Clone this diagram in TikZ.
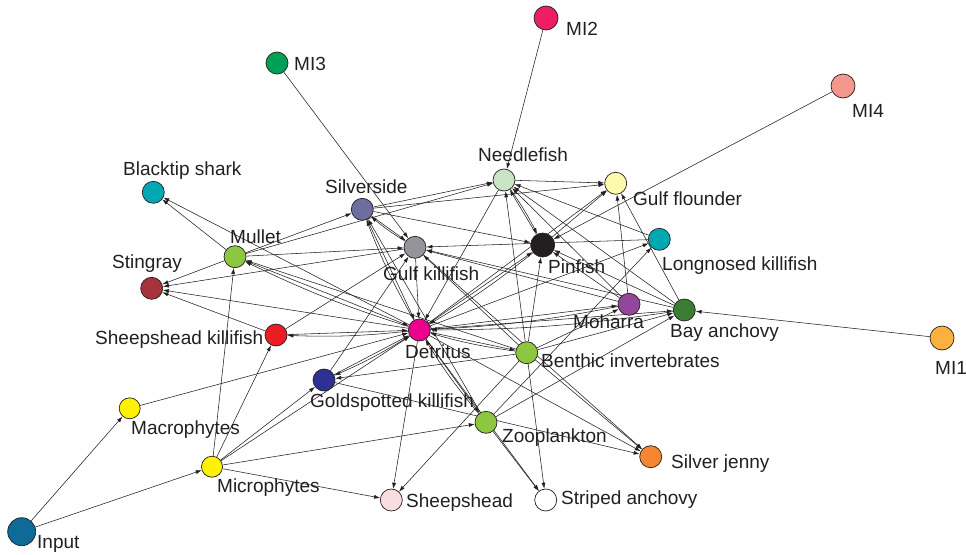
\documentclass[tikz,border=0pt]{standalone}
\usepackage{fontspec}
\setmainfont{Liberation Sans}
\usetikzlibrary{arrows.meta}
\pgfdeclarelayer{edges}
\pgfsetlayers{edges,main}

\definecolor{ink}{HTML}{231F20}
\definecolor{cInput}{HTML}{0E6A96}
\definecolor{cPhyto}{HTML}{FFF200}
\definecolor{cSheeps}{HTML}{F9DDE1}
\definecolor{cJenny}{HTML}{F58634}
\definecolor{cGreen}{HTML}{8DC63F}
\definecolor{cGold}{HTML}{2E3192}
\definecolor{cDetr}{HTML}{EC008C}
\definecolor{cSK}{HTML}{ED1C24}
\definecolor{cRay}{HTML}{A7333A}
\definecolor{cShark}{HTML}{00A7B5}
\definecolor{cSilver}{HTML}{6E6E9E}
\definecolor{cGK}{HTML}{939598}
\definecolor{cNeedle}{HTML}{C9E4C5}
\definecolor{cFlounder}{HTML}{FFF9AE}
\definecolor{cLong}{HTML}{00A9B2}
\definecolor{cMoh}{HTML}{92479A}
\definecolor{cBay}{HTML}{3A7D34}
\definecolor{cMIa}{HTML}{FBB040}
\definecolor{cMIb}{HTML}{ED1E63}
\definecolor{cMIc}{HTML}{00A057}
\definecolor{cMId}{HTML}{F4978E}

\begin{document}
\begin{tikzpicture}[x=1pt,y=-1pt,
  sp/.style={circle,draw=ink,line width=0.7pt,minimum size=22pt,inner sep=0pt},
  lab/.style={anchor=base west,inner sep=0pt,font=\fontsize{19}{22}\selectfont,text=ink},
  edge/.style={draw=ink,line width=0.55pt,-{Latex[length=6pt,width=4pt]}},
  rev/.style={edge,bend left=4}]
\useasboundingbox (0,0) rectangle (966,554);

% compartments
\node[sp,fill=cInput,minimum size=28pt] (IN) at (21.7,531.7) {};
\node[sp,fill=cPhyto,minimum size=21pt] (MA) at (129.7,408.3) {};
\node[sp,fill=cPhyto,minimum size=21pt] (MP) at (212,466.7) {};
\node[sp,fill=cSheeps] (SH) at (391.3,500) {};
\node[sp,fill=white] (SA) at (545.7,500) {};
\node[sp,fill=cJenny] (SJ) at (650.7,456.7) {};
\node[sp,fill=cGreen] (ZP) at (486,422.3) {};
\node[sp,fill=cGold] (GS) at (324,380) {};
\node[sp,fill=cGreen] (BI) at (526.7,352.7) {};
\node[sp,fill=cDetr] (DT) at (419.3,330) {};
\node[sp,fill=cSK] (SK) at (276,335) {};
\node[sp,fill=cRay] (ST) at (151.7,288.3) {};
\node[sp,fill=cGreen] (ML) at (235,256.7) {};
\node[sp,fill=cShark] (BS) at (153.3,192.3) {};
\node[sp,fill=cSilver] (SS) at (362.3,209.3) {};
\node[sp,fill=cGK] (GK) at (415,247.3) {};
\node[sp,fill=cNeedle] (NF) at (504,180) {};
\node[sp,fill=ink,minimum size=24pt] (PF) at (542.7,245) {};
\node[sp,fill=cFlounder] (GF) at (615.7,183.3) {};
\node[sp,fill=cLong] (LK) at (659.3,239.3) {};
\node[sp,fill=cMoh] (MO) at (629,304.3) {};
\node[sp,fill=cBay] (BA) at (684.3,310) {};
\node[sp,fill=cMIa,minimum size=24pt] (MIa) at (942,338) {};
\node[sp,fill=cMIb,minimum size=24pt] (MIb) at (546,18) {};
\node[sp,fill=cMIc] (MIc) at (277,63) {};
\node[sp,fill=cMId,minimum size=24pt] (MId) at (843,86) {};

% labels
\node[lab] (lIN) at (37,548) {Input};
\node[lab] (lMA) at (131,434) {Macrophytes};
\node[lab] (lMP) at (217,492) {Microphytes};
\node[lab] (lSH) at (406,507) {Sheepshead};
\node[lab] (lSA) at (561,504) {Striped anchovy};
\node[lab] (lSJ) at (671,468) {Silver jenny};
\node[lab] (lZP) at (502,442) {Zooplankton};
\node[lab] (lGS) at (310,407) {Goldspotted killifish};
\node[lab] (lBI) at (541,367) {Benthic invertebrates};
\node[lab] (lDT) at (405,358) {Detritus};
\node[lab] (lMO) at (573,328) {Moharra};
\node[lab] (lBA) at (670,337) {Bay anchovy};
\node[lab] (lPF) at (548,273) {Pinfish};
\node[lab] (lLK) at (662,270) {Longnosed killifish};
\node[lab] (lGF) at (633,205) {Gulf flounder};
\node[lab] (lNF) at (478,161) {Needlefish};
\node[lab] (lSS) at (325,193) {Silverside};
\node[lab] (lGK) at (383,280) {Gulf killifish};
\node[lab] (lBS) at (123,175) {Blacktip shark};
\node[lab] (lML) at (230,243) {Mullet};
\node[lab] (lST) at (112,268) {Stingray};
\node[lab] (lSK) at (95,344) {Sheepshead killifish};
\node[lab] (lMIa) at (935,374) {MI1};
\node[lab] (lMIb) at (566,35) {MI2};
\node[lab] (lMIc) at (294,70) {MI3};
\node[lab] (lMId) at (852,117) {MI4};

% flows
\begin{pgfonlayer}{edges}
\draw[edge] (IN) -- (MA);
\draw[edge] (IN) -- (MP);
\draw[edge] (MIa) -- (BA);
\draw[edge] (MIb) -- (NF);
\draw[edge] (MIc) -- (GK);
\draw[edge] (MId) -- (PF);
\draw[edge] (MA) -- (DT);
\draw[edge] (MP) -- (ML);
\draw[edge] (MP) -- (SK);
\draw[edge] (MP) -- (GS);
\draw[edge] (MP) -- (DT);
\draw[edge] (MP) -- (ZP);
\draw[edge] (MP) -- (SH);
\draw[edge] (ML) -- (BS);
\draw[edge] (ML) -- (ST);
\draw[edge] (ML) -- (DT);
\draw[rev] (DT) to (ML);
\draw[edge] (ML) -- (GK);
\draw[edge] (ML) -- (SS);
\draw[edge] (ML) -- (NF);
\draw[edge] (BI) -- (ML);
\draw[edge] (DT) -- (BS);
\draw[edge] (GK) -- (ST);
\draw[edge] (DT) -- (ST);
\draw[edge] (SK) -- (ST);
\draw[edge] (SK) -- (DT);
\draw[rev] (DT) to (SK);
\draw[edge] (SK) -- (GK);
\draw[edge] (GS) -- (DT);
\draw[rev] (DT) to (GS);
\draw[edge] (GS) -- (GK);
\draw[edge] (GS) -- (SJ);
\draw[edge] (BI) -- (GS);
\draw[edge] (SS) -- (DT);
\draw[rev] (DT) to (SS);
\draw[edge] (ZP) -- (SS);
\draw[edge] (SS) -- (GK);
\draw[rev] (GK) to (SS);
\draw[edge] (SS) -- (NF);
\draw[edge] (SS) -- (GF);
\draw[edge] (SS) -- (PF);
\draw[edge] (GK) -- (DT);
\draw[edge] (NF) -- (DT);
\draw[edge] (BI) -- (NF);
\draw[edge] (PF) -- (NF);
\draw[rev] (NF) to (PF);
\draw[edge] (MO) -- (NF);
\draw[edge] (BA) -- (NF);
\draw[edge] (LK) -- (NF);
\draw[edge] (NF) -- (GF);
\draw[edge] (PF) -- (GF);
\draw[edge] (DT) -- (GF);
\draw[edge] (MO) -- (GF);
\draw[edge] (BA) -- (GF);
\draw[edge] (DT) -- (PF);
\draw[rev] (PF) to (DT);
\draw[edge] (BI) -- (PF);
\draw[edge] (MO) -- (PF);
\draw[edge] (BA) -- (PF);
\draw[edge] (LK) -- (GK);
\draw[edge] (MO) -- (GK);
\draw[edge] (BA) -- (GK);
\draw[edge] (BI) -- (GK);
\draw[edge] (DT) -- (LK);
\draw[edge] (ZP) -- (LK);
\draw[edge] (DT) -- (MO);
\draw[rev] (MO) to (DT);
\draw[edge] (BI) -- (MO);
\draw[edge] (DT) -- (BA);
\draw[rev] (BA) to (DT);
\draw[edge] (BI) -- (BA);
\draw[edge] (ZP) -- (BA);
\draw[edge] (DT) -- (BI);
\draw[rev] (BI) to (DT);
\draw[edge] (DT) -- (ZP);
\draw[rev] (ZP) to (DT);
\draw[edge] (ZP) -- (SA);
\draw[edge] (DT) -- (SA);
\draw[edge] (BI) -- (SA);
\draw[edge] (DT) -- (SJ);
\draw[edge] (BI) -- (SJ);
\draw[edge] (GK) -- (SJ);
\draw[edge] (DT) -- (SH);
\draw[edge] (BI) -- (SH);
\end{pgfonlayer}
\end{tikzpicture}
\end{document}
